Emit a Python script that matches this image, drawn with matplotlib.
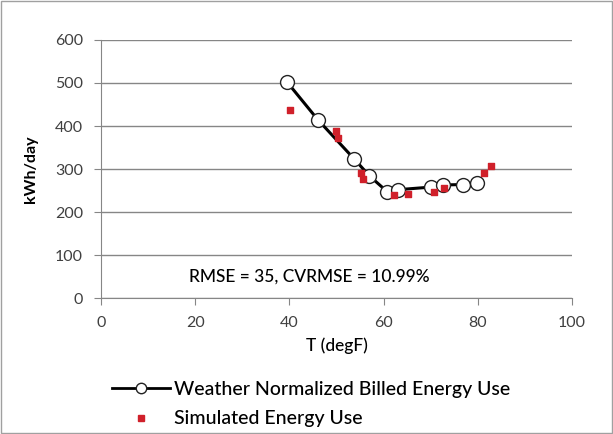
import matplotlib
matplotlib.use("Agg")
import matplotlib.pyplot as plt
from matplotlib.lines import Line2D

plt.rcParams['font.family'] = ['Lato', 'DejaVu Sans']

# Weather normalized billed energy use
billed_T = [39.5, 46, 53.7, 57, 60.8, 63, 70, 72.7, 76.8, 79.8]
billed_kwh = [502, 415, 324, 284, 247, 252, 258, 263, 264, 267]

# Simulated energy use
sim_T = [40.1, 49.9, 50.3, 55.3, 55.7, 62.1, 65.2, 70.6, 72.9, 81.3, 82.8]
sim_kwh = [437, 389, 373, 291, 276, 240, 242, 246, 255, 290, 308]

xticks = [0, 20, 40, 60, 80, 100]
yticks = [0, 100, 200, 300, 400, 500, 600]
annotation = "RMSE = 35, CVRMSE = 10.99%"

fig = plt.figure(figsize=(6.13, 4.34), dpi=100)
ax = fig.add_axes([0.165, 0.313, 0.768, 0.595])

gray = '#868686'
ax.set_xlim(0, 100)
ax.set_ylim(0, 600)
ax.set_xticks(xticks)
ax.set_yticks(yticks)
ax.yaxis.grid(True, color=gray, linewidth=1.0)
ax.set_axisbelow(True)
for s in ['top', 'right']:
    ax.spines[s].set_visible(False)
for s in ['left', 'bottom']:
    ax.spines[s].set_color(gray)
ax.tick_params(axis='both', colors=gray, labelcolor='#404040', labelsize=11.5, length=5)
ax.tick_params(axis='x', pad=8)
ax.tick_params(axis='y', pad=8)

ax.plot(billed_T, billed_kwh, color='black', linewidth=2.2, marker='o', markersize=10,
        markerfacecolor='white', markeredgecolor='#222222', markeredgewidth=1.0, zorder=3)
ax.scatter(sim_T, sim_kwh, marker='s', s=22, color='#d0202a', zorder=4)

ax.text(44.2, 50, annotation, ha='center', va='center', fontsize=12.5,
        fontweight='medium', color='black')

ax.set_xlabel("T (degF)", fontsize=12.5, fontweight='medium', color='black', labelpad=5)
ax.set_ylabel("kWh/day", fontsize=11.5, fontweight='bold', color='black', labelpad=12)

handles = [
    Line2D([], [], color='black', linewidth=2.0, marker='o', markersize=7.5,
           markerfacecolor='white', markeredgecolor='#222222'),
    Line2D([], [], linestyle='none', marker='s', markersize=4.5, color='#d0202a'),
]
fig.legend(handles, ["Weather Normalized Billed Energy Use", "Simulated Energy Use"],
           loc='upper left', bbox_to_anchor=(0.182, 0.123), frameon=False,
           handlelength=3.0, labelspacing=0.66, handletextpad=0.2,
           borderaxespad=0, borderpad=0, prop={'size': 14, 'weight': 'medium'})

fig.patches.append(plt.Rectangle((0.002, 0.002), 0.996, 0.996, transform=fig.transFigure,
                                 fill=False, edgecolor='#a0a0a0', linewidth=1))

fig.savefig("out.png", dpi=100)
